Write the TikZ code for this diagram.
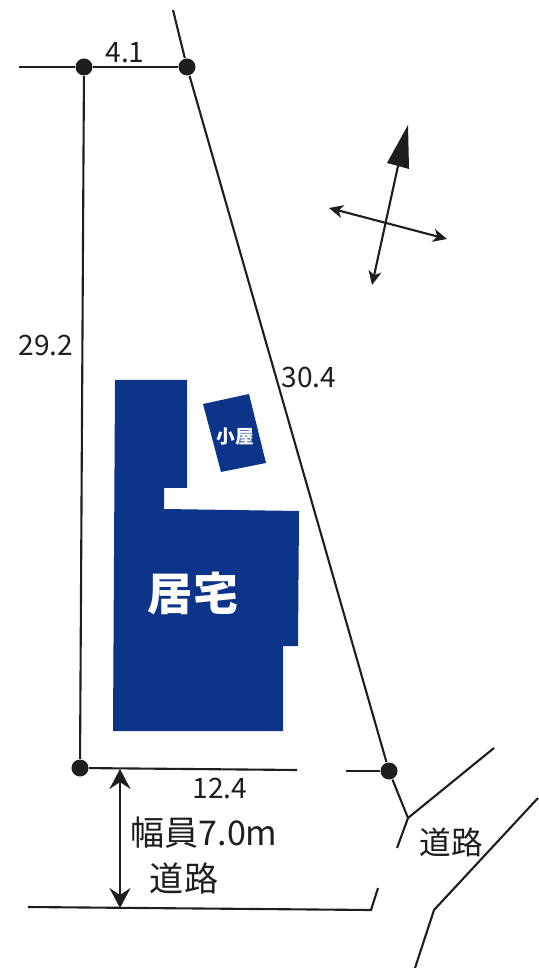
\documentclass[tikz,border=0pt]{standalone}
\usepackage{fontspec}
\setmainfont{Noto Sans CJK JP}
\usetikzlibrary{arrows.meta}
\definecolor{blockblue}{HTML}{0C3488}
\definecolor{inkgray}{HTML}{1E1E1E}

\begin{document}
\begin{tikzpicture}[x=0.01cm,y=-0.01cm,
	Edge/.style={inkgray,line width=0.6pt},
	Pin/.style={circle,fill=inkgray,inner sep=0pt,minimum size=0.17cm},
	Block/.style={fill=blockblue,draw=none},
	Label/.style={inkgray,inner sep=0pt,font=\fontsize{8}{8}\selectfont},
	RoadLabel/.style={inkgray,inner sep=0pt,font=\fontsize{9}{9}\selectfont},
	BlockLabel/.style={white,inner sep=0pt},
	Small/.style={Edge,{Stealth[length=0.14cm,width=0.13cm,inset=0.04cm]}-{Stealth[length=0.14cm,width=0.13cm,inset=0.04cm]}},
	Wide/.style={Edge,line width=0.8pt,{Stealth[length=0.2cm,width=0.21cm,inset=0.07cm]}-{Stealth[length=0.2cm,width=0.21cm,inset=0.07cm]}},
]
	\useasboundingbox (0,0) rectangle (538,968);

	% site corners
	\node[Pin] (A) at (84,67){};
	\node[Pin] (B) at (187,67){};
	\node[Pin] (C) at (80,768){};
	\node[Pin] (D) at (389,771){};

	\coordinate (LeftEnd) at (19,67);
	\coordinate (TopEnd) at (173,10);
	\coordinate (GapL) at (297,770);
	\coordinate (GapR) at (346,771);
	\coordinate (Fork) at (408,818);
	\coordinate (ForkUp) at (494,748);
	\coordinate (ForkDown) at (397,848);
	\coordinate (RoadL) at (28,907);
	\coordinate (RoadCorner) at (371,910);
	\coordinate (RoadEnd) at (378,888);
	\coordinate (FarA) at (538,798);
	\coordinate (FarB) at (434,910);
	\coordinate (FarC) at (415,968);

	\path[Edge]
	(LeftEnd) edge (A)
	(A) edge (B)
	(A) edge (C)
	(TopEnd) edge (B)
	(B) edge (D)
	(D) edge (Fork)
	(C) edge (GapL)
	(GapR) edge (D)
	(Fork) edge (ForkUp)
	(Fork) edge (ForkDown)
	;
	\draw[Edge] (RoadL) -- (RoadCorner) -- (RoadEnd);
	\draw[Edge] (FarA) -- (FarB) -- (FarC);

	% buildings
	\fill[Block] (115,380) -- (187,380) -- (187,488) -- (164,488) -- (164,509)
		-- (299,511) -- (298,646) -- (283,646) -- (283,731) -- (113,731) -- cycle;
	\fill[Block] (203,404) -- (249,394) -- (266,463) -- (221,472) -- cycle;
	\node[BlockLabel,font=\fontsize{12.8}{12.8}\selectfont\bfseries] (House) at (193,594){居宅};
	\node[BlockLabel,font=\fontsize{5.3}{5.3}\selectfont\bfseries] (Shed) at (235,437){小屋};

	% north mark
	\coordinate (NorthTip) at (408,125);
	\coordinate (NorthL) at (387,163);
	\coordinate (NorthR) at (409,169);
	\coordinate (NorthBase) at (398,166);
	\coordinate (SouthTip) at (372,285);
	\coordinate (WestTip) at (329,208);
	\coordinate (EastTip) at (447,239);
	\fill[inkgray] (NorthTip) -- (NorthL) -- (NorthR) -- cycle;
	\draw[Edge,{Stealth[length=0.14cm,width=0.13cm,inset=0.04cm]}-] (SouthTip) -- (NorthBase);
	\draw[Small] (WestTip) -- (EastTip);

	% road width
	\coordinate (WidthTop) at (120,769);
	\coordinate (WidthBottom) at (120,908);
	\draw[Wide] (WidthTop) -- (WidthBottom);

	\node[Label] (Top) at (125,53){4.1};
	\node[Label] (Left) at (46,345){29.2};
	\node[Label] (Right) at (309,377){30.4};
	\node[Label] (Bottom) at (220,788){12.4};
	\node[RoadLabel,font=\fontsize{9.7}{9.7}\selectfont] (Width) at (204,833){幅員7.0m};
	\node[RoadLabel,font=\fontsize{9.7}{9.7}\selectfont] (RoadA) at (184,878){道路};
	\node[RoadLabel] (RoadB) at (451,842){道路};
\end{tikzpicture}
\end{document}
